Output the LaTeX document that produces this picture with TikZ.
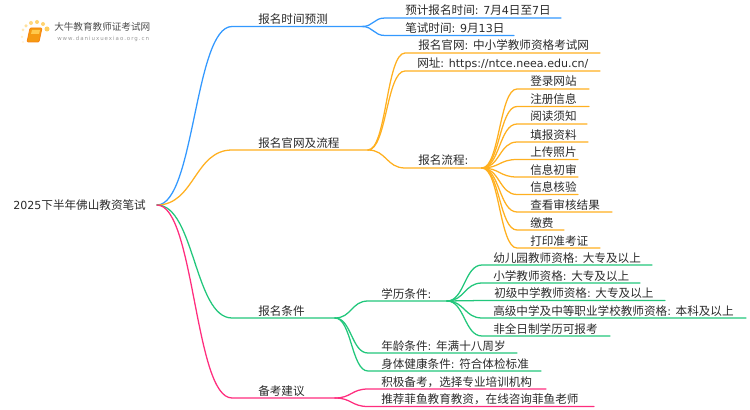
\documentclass[tikz,border=0pt]{standalone}
\usepackage{fontspec}
\usetikzlibrary{calc}
\setmainfont{Noto Sans CJK SC}
\newfontfamily\latf{DejaVu Sans}
\newfontfamily\urlf[LetterSpace=18]{DejaVu Sans}
\newcommand{\lat}[1]{{\latf\fontsize{8.3pt}{10pt}\selectfont #1}}
\definecolor{cblue}{HTML}{3399FF}
\definecolor{corange}{HTML}{FFB020}
\definecolor{cgreen}{HTML}{22C77C}
\definecolor{cpink}{HTML}{FF2D7E}
\definecolor{ctext}{HTML}{2B2B2B}
\definecolor{cbook}{HTML}{F59A12}
\definecolor{cdot}{HTML}{FFC94D}
\tikzset{
  lbl/.style={anchor=base west,inner sep=0pt,text=ctext,font=\fontsize{8.7pt}{10pt}\selectfont},
  conn/.style={line width=0.95pt,line cap=round}
}
% colour, from, id, x start, y, x end, x text, text
\newcommand{\Br}[8]{%
  \coordinate (#3-s) at (#4,#5);
  \coordinate (#3) at (#6,#5);
  \node[lbl] (#3-t) at (#7,#5-3) {#8};
  \coordinate (#3-c) at ($(#2)!.5!(#3-s)$);
  \draw[conn,#1] (#2) .. controls (#3-c |- #2) and (#3-c |- #3-s) .. (#3-s) -- (#3);
}
\begin{document}
\begin{tikzpicture}[x=0.75pt,y=-0.75pt]
\useasboundingbox (0,0) rectangle (750,410);
\fill[white] (0,0) rectangle (750,410);
% logo
\foreach \px/\py/\r/\o in {47/29/5/.9,43/24/4/.8,37/22/4/.8,31/23/4/.7,26/26/3.5/.55,23/30/3/.4,22/37/2.5/.3,23/42/2.2/.2}{
  \fill[cdot,opacity=\o] (\px,\py) circle (\r*0.5);
}
\fill[cbook,rounded corners=0.8pt] (30,28) -- (42,28) -- (39,42) -- (27,42) -- cycle;
\draw[cbook!85!red,line width=0.6pt,rounded corners=0.8pt] (30,28) -- (42,28) -- (39,42) -- (27,42) -- cycle;
\fill[cdot] (32,30) -- (40,30) -- (39,34) -- (31,34) -- cycle;
\node[anchor=base west,inner sep=0pt,text=black!70,font=\fontsize{7.2pt}{9pt}\selectfont] (logot) at (54,31) {大牛教育教师证考试网};
\node[anchor=base west,inner sep=0pt,text=black!40,font=\urlf\fontsize{4.1pt}{5pt}\selectfont] (logou) at (57,41) {www.daniuxuexiao.org.cn};
% root
\coordinate (root) at (157,205);
\node[lbl] (roott) at (13,209) {\lat{2025}下半年佛山教资笔试};
% blue
\Br{cblue}{root}{a}{232}{26.5}{362}{258}{报名时间预测}
\Br{cblue}{a}{a1}{385}{18}{561}{405}{预计报名时间\lat{: 7}月\lat{4}日至\lat{7}日}
\Br{cblue}{a}{a2}{385}{35.5}{514}{405}{笔试时间\lat{: 9}月\lat{13}日}
% orange
\Br{corange}{root}{b}{232}{150}{368}{258}{报名官网及流程}
\Br{corange}{b}{b1}{405}{53}{600}{418}{报名官网\lat{: }中小学教师资格考试网}
\Br{corange}{b}{b2}{405}{71}{600}{417}{网址\lat{: https://ntce.neea.edu.cn/}}
\Br{corange}{b}{b3}{405}{168}{482}{418}{报名流程\lat{:}}
\Br{corange}{b3}{c1}{517}{89}{589}{530}{登录网站}
\Br{corange}{b3}{c2}{517}{106.5}{589}{530}{注册信息}
\Br{corange}{b3}{c3}{517}{124}{587}{530}{阅读须知}
\Br{corange}{b3}{c4}{517}{142}{588}{530}{填报资料}
\Br{corange}{b3}{c5}{517}{159.5}{578}{530}{上传照片}
\Br{corange}{b3}{c6}{517}{177}{578}{530}{信息初审}
\Br{corange}{b3}{c7}{517}{194.5}{578}{530}{信息核验}
\Br{corange}{b3}{c8}{517}{212}{612}{530}{查看审核结果}
\Br{corange}{b3}{c9}{517}{230}{564}{530}{缴费}
\Br{corange}{b3}{c10}{517}{248}{600}{530}{打印准考证}
% green
\Br{cgreen}{root}{d}{232}{318}{335}{258}{报名条件}
\Br{cgreen}{d}{d1}{368}{301}{447}{381}{学历条件\lat{:}}
\Br{cgreen}{d1}{e1}{482}{265}{652}{493}{幼儿园教师资格\lat{: }大专及以上}
\Br{cgreen}{d1}{e2}{482}{283}{640}{493}{小学教师资格\lat{: }大专及以上}
\Br{cgreen}{d1}{e3}{482}{300.5}{665}{494}{初级中学教师资格\lat{: }大专及以上}
\Br{cgreen}{d1}{e4}{482}{318}{746}{493}{高级中学及中等职业学校教师资格\lat{: }本科及以上}
\Br{cgreen}{d1}{e5}{482}{336}{610}{493}{非全日制学历可报考}
\Br{cgreen}{d}{d2}{368}{353}{517}{381}{年龄条件\lat{: }年满十八周岁}
\Br{cgreen}{d}{d3}{368}{371}{541}{381}{身体健康条件\lat{: }符合体检标准}
% pink
\Br{cpink}{root}{f}{232}{398}{335}{258}{备考建议}
\Br{cpink}{f}{f1}{368}{389}{546}{381}{积极备考，选择专业培训机构}
\Br{cpink}{f}{f2}{368}{406.5}{594}{381}{推荐菲鱼教育教资，在线咨询菲鱼老师}
\end{tikzpicture}
\end{document}
